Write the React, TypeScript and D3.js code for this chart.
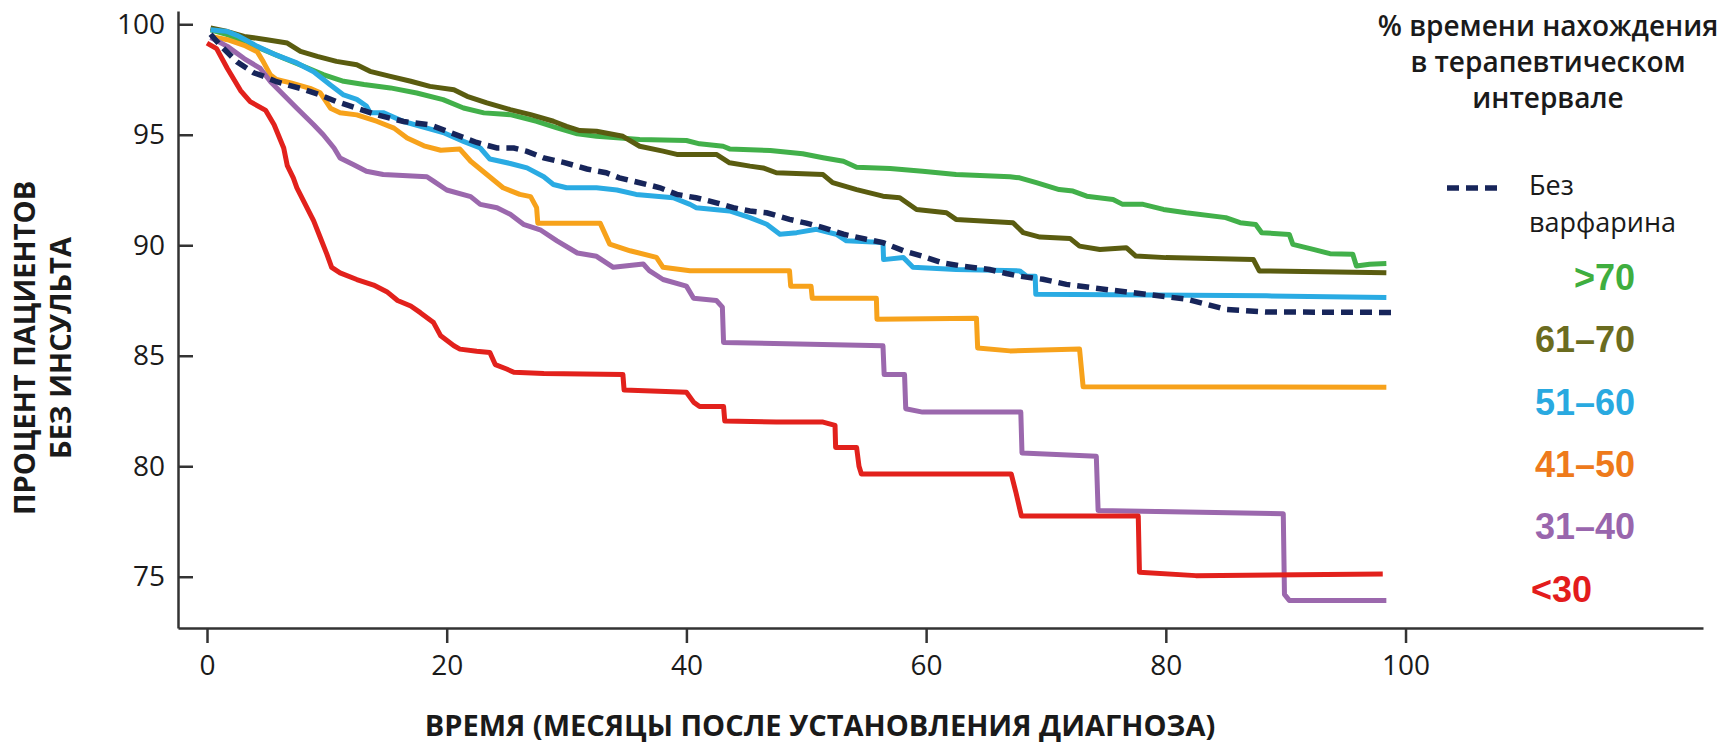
import React, { useEffect, useRef } from 'react';
import { axisBottom, axisLeft, curveLinear, line, scaleLinear, select } from 'd3';

type Pt = [number, number];

// ticks
const xTicks = [0, 20, 40, 60, 80, 100];
const yTicks = [75, 80, 85, 90, 95, 100];

// [month, % stroke free]
const noWarfarin: Pt[] = [
  [0.3, 99.55], [1.1, 99.05], [2.5, 98.3], [3.9, 97.8], [4.7, 97.65], [5.8, 97.4], [8.1, 97.05],
  [9.45, 96.8], [10.8, 96.5], [12.5, 96.2], [14.2, 95.9], [16.4, 95.6], [18.6, 95.45], [20.3, 95.1],
  [22.5, 94.65], [24.2, 94.4], [25.6, 94.4], [26.7, 94.25], [28.1, 93.95], [29.75, 93.75], [31.7, 93.45],
  [33.3, 93.28], [34.4, 93.05], [36.1, 92.83], [37.8, 92.6], [39.2, 92.3], [40.8, 92.15], [42.5, 91.92],
  [43.9, 91.7], [45.3, 91.55], [46.7, 91.47], [48.6, 91.17], [50.0, 91.0], [51.4, 90.8], [53.1, 90.5],
  [55.0, 90.27], [56.4, 90.12], [58.1, 89.75], [59.7, 89.5], [61.4, 89.2], [63.1, 89.05], [65.3, 88.9],
  [66.7, 88.72], [67.8, 88.6], [69.75, 88.46], [71.7, 88.23], [75.0, 88.0], [78.4, 87.78], [81.7, 87.56],
  [83.4, 87.33], [85.0, 87.1], [88.4, 86.98], [98.8, 86.96],
];

const over70: Pt[] = [
  [0.3, 99.75], [1.7, 99.53], [3.1, 99.22], [4.7, 98.85], [6.4, 98.47], [8.1, 98.09], [9.7, 97.72],
  [11.4, 97.42], [13.1, 97.27], [15.3, 97.12], [17.5, 96.89], [19.7, 96.59], [21.4, 96.21], [23.1, 95.99],
  [25.3, 95.91], [27.5, 95.61], [29.2, 95.31], [30.9, 95.04], [32.5, 94.93], [34.2, 94.86], [36.1, 94.78],
  [40.0, 94.74], [41.1, 94.59], [43.06, 94.48], [43.6, 94.36], [47.0, 94.29], [49.7, 94.14], [51.4, 93.96],
  [53.1, 93.8], [54.2, 93.53], [57.0, 93.47], [59.7, 93.35], [62.5, 93.2], [67.0, 93.1], [67.8, 93.05],
  [69.2, 92.83], [71.1, 92.52], [72.25, 92.45], [73.4, 92.22], [75.6, 92.07], [76.4, 91.85], [78.1, 91.85],
  [79.8, 91.62], [81.7, 91.47], [85.0, 91.25], [86.2, 91.02], [87.5, 90.94], [88.0, 90.57], [90.3, 90.49],
  [90.6, 90.04], [92.3, 89.81], [93.7, 89.62], [95.6, 89.59], [95.9, 89.06], [97.0, 89.14], [98.4, 89.17],
];

const from61to70: Pt[] = [
  [0.3, 99.83], [1.7, 99.67], [3.1, 99.45], [5.0, 99.3], [6.7, 99.15], [7.8, 98.77], [9.2, 98.55],
  [10.8, 98.32], [12.5, 98.17], [13.6, 97.87], [15.3, 97.64], [17.0, 97.42], [18.6, 97.19], [20.6, 97.04],
  [21.7, 96.74], [23.35, 96.44], [25.3, 96.14], [27.0, 95.91], [28.9, 95.61], [30.0, 95.38], [31.1, 95.19],
  [32.5, 95.16], [34.7, 94.93], [36.1, 94.48], [38.05, 94.26], [39.2, 94.11], [42.5, 94.11], [43.6, 93.73],
  [45.3, 93.58], [46.4, 93.5], [47.5, 93.28], [51.4, 93.2], [52.2, 92.83], [54.2, 92.52], [56.4, 92.22],
  [57.8, 92.15], [59.2, 91.62], [61.7, 91.47], [62.5, 91.17], [67.25, 91.02], [68.1, 90.57], [69.5, 90.37],
  [72.0, 90.31], [72.8, 89.96], [74.5, 89.81], [76.7, 89.89], [77.5, 89.51], [80.0, 89.44], [87.3, 89.36],
  [87.8, 88.84], [98.4, 88.76],
];

const from51to60: Pt[] = [
  [0.3, 99.75], [1.7, 99.67], [2.5, 99.5], [4.2, 99.0], [5.8, 98.6], [7.5, 98.25], [8.9, 97.85],
  [10.3, 97.25], [11.4, 96.8], [12.5, 96.6], [13.3, 96.3], [13.6, 96.0], [14.7, 96.0], [16.4, 95.6],
  [18.35, 95.3], [19.7, 95.1], [21.4, 94.7], [22.8, 94.4], [23.6, 93.9], [25.3, 93.7], [26.7, 93.5],
  [28.1, 93.1], [28.9, 92.75], [30.0, 92.6], [32.5, 92.6], [34.2, 92.5], [35.8, 92.3], [38.9, 92.15],
  [40.3, 91.85], [40.8, 91.7], [43.6, 91.55], [45.3, 91.25], [46.7, 90.95], [47.8, 90.5], [49.2, 90.57],
  [50.85, 90.72], [52.5, 90.5], [53.35, 90.2], [56.4, 90.12], [56.45, 89.35], [58.1, 89.45], [58.9, 89.0],
  [62.5, 88.9], [67.8, 88.84], [68.4, 88.6], [69.1, 88.6], [69.15, 87.78], [88.4, 87.71], [98.4, 87.63],
];

const from41to50: Pt[] = [
  [0.3, 99.45], [1.7, 99.3], [3.1, 99.05], [4.2, 98.75], [4.7, 98.3], [5.3, 97.7], [5.8, 97.5],
  [7.0, 97.35], [8.6, 97.1], [9.45, 96.9], [10.3, 96.2], [11.1, 96.0], [12.5, 95.9], [14.2, 95.6],
  [15.6, 95.3], [16.7, 94.85], [18.1, 94.5], [19.5, 94.3], [21.1, 94.35], [22.0, 93.8], [23.35, 93.2],
  [24.7, 92.6], [26.1, 92.3], [27.0, 92.2], [27.5, 91.7], [27.6, 91.0], [32.8, 91.0], [33.6, 90.05],
  [35.3, 89.75], [37.5, 89.45], [38.05, 89.0], [40.3, 88.85], [48.6, 88.85], [48.7, 88.15], [50.4, 88.15],
  [50.5, 87.6], [55.85, 87.6], [55.9, 86.65], [64.2, 86.7], [64.3, 85.35], [67.0, 85.22], [72.8, 85.3],
  [73.1, 83.6], [98.4, 83.57],
];

const from31to40: Pt[] = [
  [0.3, 99.4], [1.7, 99.0], [3.1, 98.45], [4.45, 98.0], [5.3, 97.4], [6.4, 96.8], [7.5, 96.2],
  [8.9, 95.45], [9.7, 95.0], [10.6, 94.4], [11.1, 93.95], [12.2, 93.65], [13.3, 93.35], [14.7, 93.2],
  [18.35, 93.1], [18.9, 92.9], [20.0, 92.5], [22.0, 92.2], [22.8, 91.85], [24.2, 91.7], [25.3, 91.4],
  [26.4, 90.95], [27.8, 90.7], [29.2, 90.2], [30.9, 89.65], [32.5, 89.5], [33.9, 89.0], [36.4, 89.15],
  [36.9, 88.85], [38.05, 88.45], [40.0, 88.15], [40.6, 87.6], [42.5, 87.5], [43.0, 87.2], [43.1, 85.6],
  [56.4, 85.45], [56.5, 84.15], [58.2, 84.15], [58.3, 82.6], [59.7, 82.45], [67.9, 82.45], [68.0, 80.6],
  [74.2, 80.45], [74.35, 78.0], [89.8, 77.85], [89.9, 74.2], [90.3, 73.93], [98.4, 73.93],
];

const under30: Pt[] = [
  [0, 99.15], [0.8, 98.9], [1.7, 98.0], [2.8, 97.0], [3.6, 96.5], [4.9, 96.1], [5.6, 95.45],
  [6.4, 94.4], [6.7, 93.6], [7.2, 93.05], [7.5, 92.6], [8.2, 91.85], [8.9, 91.1], [9.45, 90.35],
  [10.0, 89.6], [10.4, 89.0], [11.1, 88.75], [12.5, 88.45], [13.9, 88.2], [15.0, 87.9], [15.9, 87.5],
  [17.0, 87.25], [17.8, 86.95], [18.9, 86.5], [19.5, 85.9], [20.6, 85.45], [21.1, 85.3], [22.5, 85.2],
  [23.6, 85.15], [24.05, 84.6], [25.0, 84.4], [25.6, 84.25], [28.1, 84.2], [34.7, 84.15], [34.8, 83.45],
  [40.0, 83.35], [40.6, 82.9], [41.1, 82.7], [43.1, 82.7], [43.2, 82.05], [47.5, 82.0], [51.4, 82.0],
  [52.4, 81.85], [52.45, 80.85], [54.2, 80.85], [54.4, 80.0], [54.6, 79.65], [67.1, 79.65], [67.5, 78.8],
  [67.95, 77.75], [77.7, 77.75], [77.8, 75.2], [82.5, 75.05], [98.1, 75.12],
];

// legend texts
const legendTitle = ['% времени нахождения', 'в терапевтическом', 'интервале'];
const noWarfarinLabel = ['Без', 'варфарина'];
const groupLabels = ['>70', '61–70', '51–60', '41–50', '31–40', '<30'];
const groupSeries = [over70, from61to70, from51to60, from41to50, from31to40, under30];
const yTitle = ['ПРОЦЕНТ ПАЦИЕНТОВ', 'БЕЗ ИНСУЛЬТА'];
const xTitle = 'ВРЕМЯ (МЕСЯЦЫ ПОСЛЕ УСТАНОВЛЕНИЯ ДИАГНОЗА)';

const lineColors = ['#42b04a', '#5a5c10', '#2aabe3', '#f7a21b', '#9b68ad', '#e2211c'];
const labelColors = ['#3fae3f', '#6b6c1f', '#29a9e0', '#ee7a1b', '#9966ad', '#e31c1c'];
const navy = '#17255a';

const width = 1732;
const height = 744;
const left = 178;
const right = 1703;
const top = 11;
const bottom = 628;

const sansFont = "'Open Sans', 'Noto Sans', sans-serif";
const labelFont = "'Liberation Sans', Arial, sans-serif";

function App() {
  const svgRef = useRef<SVGSVGElement>(null);

  const x = scaleLinear().domain([-2.42, 124.82]).range([left, right]);
  const y = scaleLinear().domain([72.68, 100.6]).range([bottom, top]);

  const path = line<Pt>()
    .x(d => x(d[0]))
    .y(d => y(d[1]))
    .curve(curveLinear);

  useEffect(() => {
    const svg = select(svgRef.current);

    svg.select<SVGGElement>('.x-axis')
      .call(axisBottom(x).tickValues(xTicks).tickSizeInner(15).tickSizeOuter(0).tickPadding(12));

    svg.select<SVGGElement>('.y-axis')
      .call(axisLeft(y).tickValues(yTicks).tickSizeInner(-15).tickSizeOuter(0).tickPadding(13));

    svg.selectAll('.axis')
      .attr('color', '#333')
      .attr('font-family', sansFont)
      .attr('font-size', 28);
    svg.selectAll('.axis path, .axis line').attr('stroke-width', 2.5);
    svg.selectAll('.axis text').attr('fill', '#1a1a1a');
  }, []);

  return (
    <svg
      ref={svgRef}
      width={width}
      height={height}
      style={{ position: 'absolute', left: 0, top: 0, background: '#fff' }}
    >
      <g className="axis x-axis" transform={`translate(0, ${bottom})`} />
      <g className="axis y-axis" transform={`translate(${left}, 0)`} />

      {groupSeries.map((data, i) => (
        <path
          key={groupLabels[i]}
          d={path(data) ?? ''}
          fill="none"
          stroke={lineColors[i]}
          strokeWidth={5}
          strokeLinejoin="round"
        />
      ))}
      <path
        d={path(noWarfarin) ?? ''}
        fill="none"
        stroke={navy}
        strokeWidth={5.5}
        strokeDasharray="12 7"
      />

      {/* axis titles */}
      {yTitle.map((t, i) => (
        <text
          key={t}
          transform={`translate(${35 + i * 36}, 348) rotate(-90)`}
          textAnchor="middle"
          fontFamily={sansFont}
          fontWeight={700}
          fontSize={29}
          fill="#1a1a1a"
        >
          {t}
        </text>
      ))}
      <text
        x={820}
        y={736}
        textAnchor="middle"
        fontFamily={sansFont}
        fontWeight={700}
        fontSize={29}
        fill="#1a1a1a"
      >
        {xTitle}
      </text>

      {/* legend */}
      {legendTitle.map((t, i) => (
        <text
          key={t}
          x={1548}
          y={36 + i * 36}
          textAnchor="middle"
          fontFamily={sansFont}
          fontWeight={600}
          fontSize={28}
          fill="#1a1a1a"
        >
          {t}
        </text>
      ))}

      <line x1={1447} x2={1502} y1={188} y2={188} stroke={navy} strokeWidth={5.5} strokeDasharray="12 7" />
      {noWarfarinLabel.map((t, i) => (
        <text key={t} x={1529} y={195 + i * 37} fontFamily={sansFont} fontSize={27} fill="#1a1a1a">
          {t}
        </text>
      ))}

      {groupLabels.map((label, i) => {
        const last = i === groupLabels.length - 1;
        return (
          <text
            key={label}
            x={last ? 1531 : 1635}
            y={290 + i * 62.3}
            textAnchor={last ? 'start' : 'end'}
            fontFamily={labelFont}
            fontWeight={700}
            fontSize={36}
            fill={labelColors[i]}
          >
            {label}
          </text>
        );
      })}
    </svg>
  );
}

export default App;
